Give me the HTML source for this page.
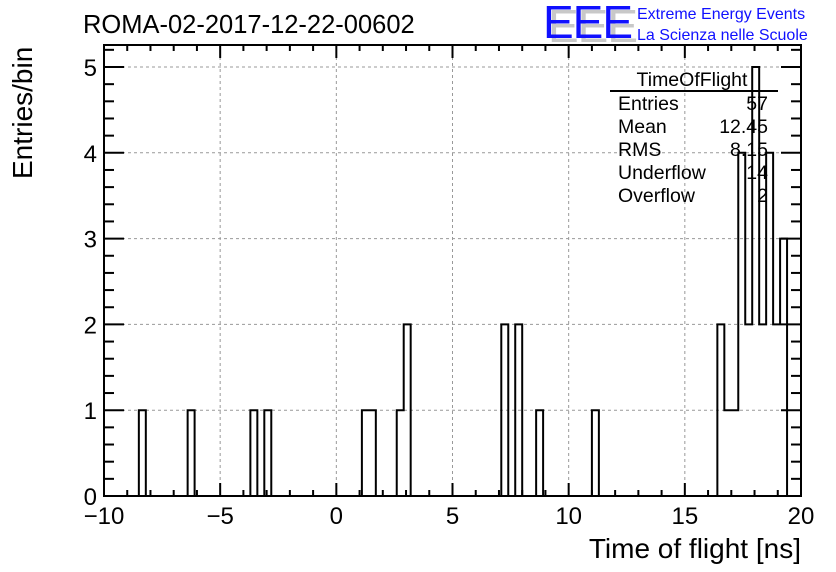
<!DOCTYPE html>
<html><head><meta charset="utf-8"><style>
body{margin:0;background:#fff}
svg{display:block;font-family:"Liberation Sans",sans-serif}
</style></head><body>
<svg id="chart" width="836" height="572" viewBox="0 0 836 572" xmlns="http://www.w3.org/2000/svg">
<rect width="836" height="572" fill="#fff"/>
<text x="83" y="33" font-size="25.5">ROMA-02-2017-12-22-00602</text>
<g>
<text x="548" y="42" font-size="46" fill="#c8c8c8" letter-spacing="-1">EEE</text>
<text x="543" y="38" font-size="46" fill="#1010ff" letter-spacing="-1">EEE</text>
<text x="637" y="19" font-size="16" fill="#1010ff">Extreme Energy Events</text>
<text x="637" y="40" font-size="16" fill="#1010ff">La Scienza nelle Scuole</text>
</g>
<g id="grid"></g>
<g id="ticks"></g>
<path id="hist" fill="none" stroke="#000" stroke-width="2"/>
<rect x="104" y="45" width="697" height="451" fill="none" stroke="#000" stroke-width="2"/>
<g id="labels" font-size="24"></g>
<text x="801" y="558" font-size="28" text-anchor="end">Time of flight [ns]</text>
<text transform="translate(32,179) rotate(-90)" font-size="28">Entries/bin</text>
<g font-size="19.5">
<text x="692" y="86" text-anchor="middle">TimeOfFlight</text>
<line x1="610" y1="91" x2="778" y2="91" stroke="#000" stroke-width="2"/>
<text x="618" y="110">Entries</text><text x="768" y="110" text-anchor="end">57</text>
<text x="618" y="133">Mean</text><text x="768" y="133" text-anchor="end">12.45</text>
<text x="618" y="156">RMS</text><text x="768" y="156" text-anchor="end">8.15</text>
<text x="618" y="179">Underflow</text><text x="768" y="179" text-anchor="end">14</text>
<text x="618" y="202">Overflow</text><text x="768" y="202" text-anchor="end">2</text>
</g>
</svg>
<script>
const xMin = -10, xMax = 20, nBins = 100;
const filledBins = [5,12,21,23,37,38,42,43,57,59,62,70,88,89,90,91,92,93,94,95,96,97];
const filledCounts = [1,1,1,1,1,1,1,2,2,2,1,1,2,1,1,4,2,5,2,4,2,3];
const xTicks = [-10,-5,0,5,10,15,20];
const yTicks = [0,1,2,3,4,5];

const X0 = 104, X1 = 801, YB = 496, YT = 45;
const sx = v => X0 + (v - xMin) / (xMax - xMin) * (X1 - X0);
const sy = v => YB - v * (496 - 67) / 5;
const NS = 'http://www.w3.org/2000/svg';
function mk(tag, attrs, parent){const e=document.createElementNS(NS,tag);for(const k in attrs)e.setAttribute(k,attrs[k]);parent.appendChild(e);return e;}

const counts = new Array(nBins).fill(0);
filledBins.forEach((b,i)=>{counts[b]=filledCounts[i];});
const bw = (xMax - xMin) / nBins;
let d = 'M' + sx(xMin) + ' ' + sy(0);
for (let i = 0; i < nBins; i++) {
  const a = sx(xMin + i*bw), b = sx(xMin + (i+1)*bw);
  d += ' L' + a + ' ' + sy(counts[i]) + ' L' + b + ' ' + sy(counts[i]);
}
d += ' L' + sx(xMax) + ' ' + sy(0);
document.getElementById('hist').setAttribute('d', d);

const grid = document.getElementById('grid'), ticks = document.getElementById('ticks'), labels = document.getElementById('labels');
xTicks.forEach(v=>{
  const x = sx(v);
  if (v > xMin && v < xMax) {
    const g = mk('line',{x1:x,y1:YT,x2:x,y2:YB,stroke:'#999','stroke-dasharray':'3,3','stroke-width':1},grid);
    
    
  }
  const t = mk('text',{x:x,y:524,'text-anchor':'middle'},labels);
  t.textContent = v < 0 ? '\u2212' + Math.abs(v) : String(v);
  
  
});
for (let v = xMin; v <= xMax; v++) {
  const x = sx(v), L = (v % 5 === 0) ? 13 : 6;
  mk('line',{x1:x,y1:YB,x2:x,y2:YB-L,stroke:'#000','stroke-width':2},ticks);
  mk('line',{x1:x,y1:YT,x2:x,y2:YT+L,stroke:'#000','stroke-width':2},ticks);
}
yTicks.forEach(v=>{
  const y = sy(v);
  if (v > 0) {
    const g = mk('line',{x1:X0,y1:y,x2:X1,y2:y,stroke:'#999','stroke-dasharray':'3,3','stroke-width':1},grid);
    
    
  }
  const t = mk('text',{x:97,y:y+9,'text-anchor':'end'},labels);
  t.textContent = String(v);
  
  
});
for (let i = 0; i <= 26; i++) {
  const v = i * 0.2, y = sy(v);
  if (y < YT) break;
  const L = (i % 5 === 0) ? 20 : 10;
  mk('line',{x1:X0,y1:y,x2:X0+L,y2:y,stroke:'#000','stroke-width':2},ticks);
  mk('line',{x1:X1,y1:y,x2:X1-L,y2:y,stroke:'#000','stroke-width':2},ticks);
}
</script>
</body></html>
